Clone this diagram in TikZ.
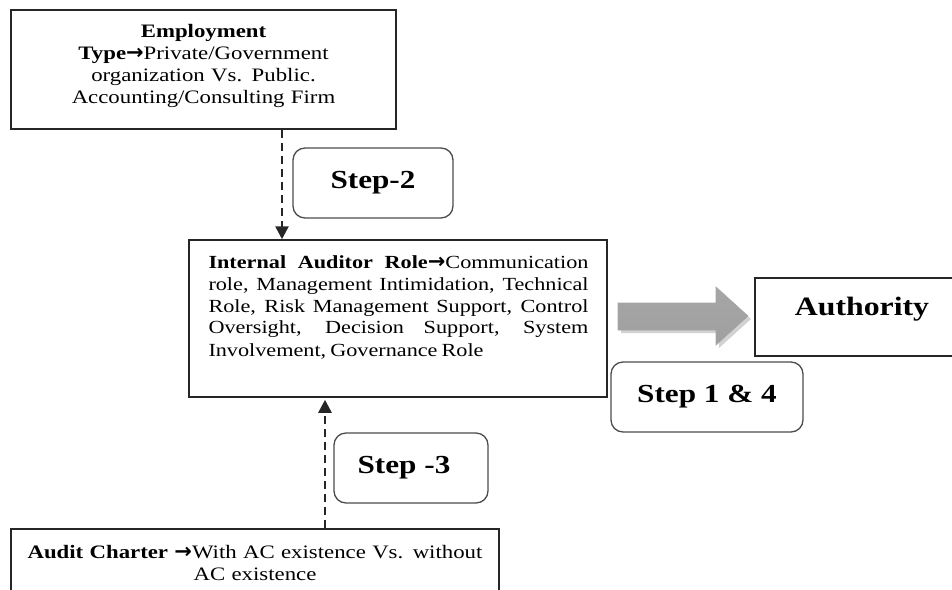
\documentclass[tikz,border=0pt]{standalone}
\usepackage{fontspec}
\setmainfont{Liberation Serif}[FakeStretch=1.2]
\newfontfamily\arrfont{DejaVu Sans}
\usetikzlibrary{arrows.meta}
\newcommand{\rarr}{{\arrfont\bfseries\fontsize{21}{22}\selectfont →}}
\tikzset{
  plainbox/.style={draw=black!85, line width=1.5pt, inner sep=0pt},
  stepbox/.style={draw=black!70, line width=1.3pt, rounded corners=12pt, inner sep=0pt,
     font=\fontsize{26}{30}\selectfont\bfseries},
  bodytext/.style={font=\fontsize{19}{22}\selectfont, inner sep=0pt},
  dasharrow/.style={line width=2.6pt, dash pattern=on 8pt off 5pt, black!85,
     -{Triangle[width=13pt,length=13pt]}}
}
\begin{document}
\begin{tikzpicture}[x=1pt,y=-1pt]
\useasboundingbox (0,0) rectangle (952,589);
% boxes
\node[plainbox, minimum width=385pt, minimum height=119pt] (employ) at (203.5,69.5) {};
\node[bodytext, align=center, text width=375pt] (employtxt) at (203.5,66)
  {\textbf{Employment}\\ \textbf{Type\rarr}Private/Government\\ organization Vs. Public.\\ Accounting/Consulting Firm};

\node[plainbox, minimum width=418pt, minimum height=157pt] (internal) at (398,318.5) {};
\node[bodytext, font=\fontsize{18.5}{22}\selectfont, align=justify, text width=380pt] (inttxt) at (398.5,307)
  {\hyphenpenalty=10000\exhyphenpenalty=10000\spaceskip=0.22em plus 0.5em minus 0.1em
   \textbf{Internal Auditor Role\rarr}Communication\linebreak
   role, Management Intimidation, Technical\linebreak
   Role, Risk Management Support, Control\linebreak
   Oversight, Decision Support, System\linebreak
   Involvement, Governance Role};

\node[plainbox, minimum width=200pt, minimum height=78pt] (authority) at (855,317) {};
\node[inner sep=0pt, font=\fontsize{26.5}{30}\selectfont\bfseries] (authtxt) at (862,309) {Authority};

\node[plainbox, minimum width=488pt, minimum height=70pt] (audit) at (255,564) {};
\node[bodytext, align=center, text width=485pt] (audittxt) at (255,563)
  {\textbf{Audit Charter \rarr}With AC existence Vs. without\\ AC existence};

% step labels
\node[stepbox, minimum width=160pt, minimum height=70pt] (step2) at (373,183) {Step-2};
\node[stepbox, minimum width=154pt, minimum height=70pt] (step3) at (411,468) {\hspace*{-14pt}Step -3};
\node[stepbox, minimum width=192pt, minimum height=70pt] (step14) at (707,397) {Step 1 \& 4};

% dashed connectors
\coordinate (c1) at (282,0);
\coordinate (c2) at (325,0);
\draw[dasharrow] (c1 |- employ.south) -- (c1 |- internal.north);
\draw[dasharrow] (c2 |- audit.north) -- ([yshift=-2pt]c2 |- internal.south);

% big block arrow
\fill[gray!35] (621,306) -- (719,306) -- (719,290) -- (751,319) -- (719,348) -- (719,333) -- (621,333) -- cycle;
\shade[top color=gray!70, middle color=gray!15, bottom color=gray!75, draw=gray!70, line width=0.6pt]
  (618,303) -- (716,303) -- (716,287) -- (748,316) -- (716,345) -- (716,330) -- (618,330) -- cycle;
\end{tikzpicture}
\end{document}
